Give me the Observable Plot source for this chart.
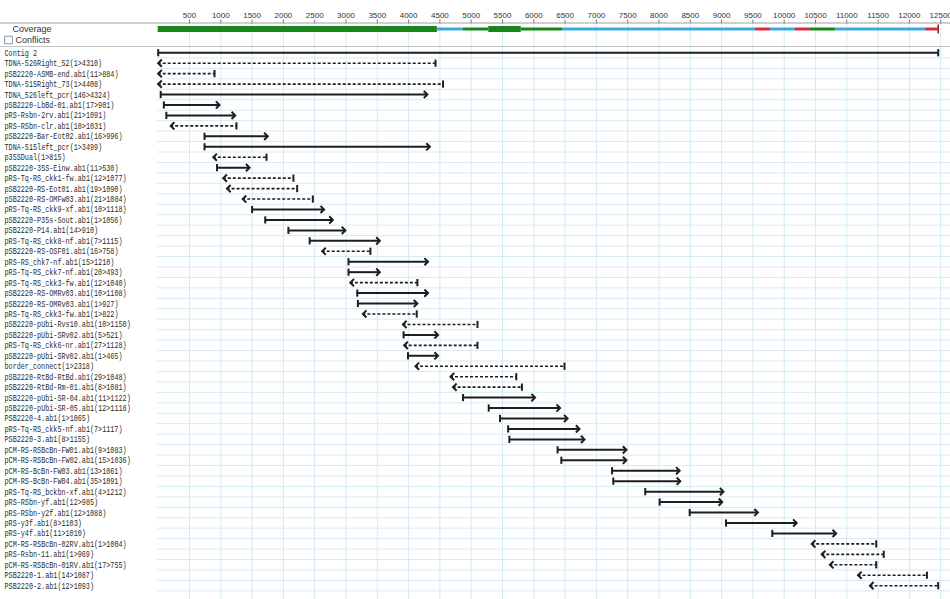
<!DOCTYPE html>
<html><head><meta charset="utf-8">
<script src="https://cdn.jsdelivr.net/npm/d3@7"></script>
<script src="https://cdn.jsdelivr.net/npm/@observablehq/plot@0.6"></script>
<style>
html,body{margin:0;padding:0;background:#fff;}
#chart{width:950px;height:599px;position:relative;overflow:hidden;background:#fff;}
#chart svg{display:block;}
</style></head><body><div id="chart"></div>
<script>
// ---- data ----
const readLabels = [
  "Contig 2",
  "TDNA-526Right_52(1>4310)",
  "pSB2220-ASMB-end.ab1(11>884)",
  "TDNA-515Right_73(1>4408)",
  "TDNA_526left_pcr(146>4324)",
  "pSB2220-LbBd-01.ab1(17>901)",
  "pRS-Rsbn-2rv.ab1(21>1091)",
  "pRS-RSbn-clr.ab1(10>1031)",
  "pSB2220-Bar-Eot02.ab1(16>996)",
  "TDNA-515left_pcr(1>3499)",
  "p35SDual(1>815)",
  "pSB2220-35S-Einw.ab1(11>530)",
  "pRS-Tq-RS_ckk1-fw.ab1(12>1077)",
  "pSB2220-RS-Eot01.ab1(19>1090)",
  "pSB2220-RS-OMFw03.ab1(21>1084)",
  "pRS-Tq-RS_ckk9-xf.ab1(10>1118)",
  "pSB2220-P35s-Sout.ab1(1>1056)",
  "pSB2220-P14.ab1(14>910)",
  "pRS-Tq-RS_ckk8-nf.ab1(7>1115)",
  "pSB2220-RS-OSF01.ab1(16>758)",
  "pRS-RS_chk7-nf.ab1(15>1210)",
  "pRS-Tq-RS_ckk7-nf.ab1(20>493)",
  "pRS-Tq-RS_ckk3-fw.ab1(12>1040)",
  "pSB2220-RS-OMRv03.ab1(10>1108)",
  "pSB2220-RS-OMRv03.ab1(1>927)",
  "pRS-Tq-RS_ckk3-fw.ab1(1>822)",
  "pSB2220-pUbi-Rvs10.ab1(10>1150)",
  "pSB2220-pUbi-SRv02.ab1(5>521)",
  "pRS-Tq-RS_ckk6-nr.ab1(27>1128)",
  "pSB2220-pUbi-SRv02.ab1(1>465)",
  "border_connect(1>2318)",
  "pSB2220-RtBd-RtBd.ab1(29>1048)",
  "pSB2220-RtBd-Rm-01.ab1(8>1081)",
  "pSB2220-pUbi-SR-04.ab1(11>1122)",
  "pSB2220-pUbi-SR-05.ab1(12>1118)",
  "PSB2220-4.ab1(1>1065)",
  "pRS-Tq-RS_ckk5-nf.ab1(7>1117)",
  "PSB2220-3.ab1(8>1155)",
  "pCM-RS-RSBcBn-FW01.ab1(9>1083)",
  "pCM-RS-RSBcBn-FW02.ab1(15>1036)",
  "pCM-RS-BcBn-FW03.ab1(13>1061)",
  "pCM-RS-BcBn-FW04.ab1(35>1091)",
  "pRS-Tq-RS_bckbn-xf.ab1(4>1212)",
  "pRS-RSbn-yf.ab1(12>985)",
  "pRS-RSbn-y2f.ab1(12>1088)",
  "pRS-y3f.ab1(8>1103)",
  "pRS-y4f.ab1(11>1010)",
  "pCM-RS-RSBcBn-02RV.ab1(1>1004)",
  "pRS-Rsbn-11.ab1(1>969)",
  "pCM-RS-RSBcBn-01RV.ab1(17>755)",
  "PSB2220-1.ab1(14>1087)",
  "PSB2220-2.ab1(12>1093)"
];
const readStart = [0,0,0,0,40,90,130,200,740,740,880,940,1040,1100,1350,1500,1710,2080,2420,2620,3040,3040,3070,3180,3190,3270,3910,3920,3930,3990,4110,4670,4710,4870,5280,5460,5590,5610,6380,6440,7250,7270,7780,8010,8490,9070,9810,10440,10600,10730,11180,11370];
const readEnd = [12460,4430,900,4550,4300,980,1230,1250,1750,4340,1730,1460,2160,2220,2470,2650,2790,2990,3540,3390,4310,3540,4140,4310,4140,4130,5100,4470,5100,4470,6490,5720,5810,6020,6420,6540,6730,6810,7480,7480,8330,8340,9030,9010,9580,10200,10830,11470,11590,11470,12280,12460];
// c = contig, f = forward read, r = reverse read
const readStrand = ["c","r","r","r","f","f","f","r","f","f","r","f","r","r","r","f","f","f","f","r","f","f","r","f","f","r","r","f","r","f","r","r","r","f","f","f","f","f","f","f","f","f","f","f","f","f","f","r","r","r","r","r"];

const covStart = [0,4460,4870,5280,5800,6460,9540,9780,10180,10420,10820,12260];
const covEnd   = [4460,4870,5280,5800,6460,9540,9780,10180,10420,10820,12260,12460];
const covKind  = ["G","b","g","G","g","b","r","b","r","g","b","r"];

const axisTicks = d3.range(500, 12501, 500);
const headerRows = ["Coverage","Conflicts"];

// ---- build tables ----
const reads = readLabels.map((name, i) => ({name, start: readStart[i], end: readEnd[i], strand: readStrand[i]}));
const coverage = covStart.map((s, i) => ({start: s, end: covEnd[i], kind: covKind[i]}));
const covColor = {G: "#17861b", g: "#17861b", b: "#3aa9e0", r: "#e0283e"};
const covWidth = {G: 6, g: 3, b: 3, r: 3};

const xDomain = [0, 12500];
const xRange = [157.7, 940.2];
const rowStep = 10.45;
const ink = "#1e1e1e";

// custom symbols
const tickSym = {draw(ctx){ ctx.moveTo(0,-3.6); ctx.lineTo(0,3.6); }};
const rightHead = {draw(ctx){ ctx.moveTo(-3.6,-3.6); ctx.lineTo(0,0); ctx.lineTo(-3.6,3.6); }};
const leftHead = {draw(ctx){ ctx.moveTo(3.6,-3.6); ctx.lineTo(0,0); ctx.lineTo(3.6,3.6); }};
const covTick = {draw(ctx){ ctx.moveTo(0,-4.5); ctx.lineTo(0,4.5); }};

const solid = reads.filter(d => d.strand !== "r");
const fwd = reads.filter(d => d.strand === "f");
const rev = reads.filter(d => d.strand === "r");
const contig = reads.filter(d => d.strand === "c");

// ---- header ----
const header = Plot.plot({
  width: 950, height: 47,
  marginTop: 22.5, marginBottom: 0, marginLeft: 0, marginRight: 0,
  x: {domain: xDomain, range: xRange, axis: null},
  y: {type: "band", domain: headerRows, range: [23, 45], padding: 0, round: false, axis: null},
  style: {fontFamily: "Liberation Sans, Arial, sans-serif", background: "white"},
  marks: [
    Plot.ruleX(axisTicks, {stroke: "#d6edf6", strokeWidth: 1}),
    Plot.axisX(axisTicks, {anchor: "top", tickSize: 4, tickPadding: 1.5, fontSize: 8, tickFormat: d => String(d), stroke: "#777", fill: "#333", label: null}),
    Plot.frame({anchor: "top", stroke: "#a0a0a0"}),
    Plot.frame({anchor: "bottom", stroke: "#8a8a8a", strokeWidth: 2}),
    Plot.ruleY(coverage, {y: () => "Coverage", x1: "start", x2: "end", stroke: d => covColor[d.kind], strokeWidth: d => covWidth[d.kind]}),
    Plot.dot([covEnd[covEnd.length - 1]], {x: d => d, y: () => "Coverage", symbol: covTick, stroke: "#8b1a1a", strokeWidth: 1.5, fill: "none"}),
    Plot.dot(["Conflicts"], {y: d => d, frameAnchor: "left", dx: 8, symbol: "square", r: 4.3, fill: "white", stroke: "#7f9bb5", strokeWidth: 1}),
    Plot.text(["Coverage"], {y: d => d, text: d => d, frameAnchor: "left", dx: 12, textAnchor: "start", fontSize: 9, fill: "#333"}),
    Plot.text(["Conflicts"], {y: d => d, text: d => d, frameAnchor: "left", dx: 15, textAnchor: "start", fontSize: 9, fill: "#333"})
  ]
});

// ---- main tracks ----
const main = Plot.plot({
  width: 950, height: 552,
  marginTop: 0, marginBottom: 0, marginLeft: 157, marginRight: 0,
  x: {domain: xDomain, range: xRange, axis: null},
  y: {type: "band", domain: readLabels, range: [0, readLabels.length * rowStep], padding: 0, round: false, axis: null},
  style: {background: "white"},
  marks: [
    Plot.ruleX(axisTicks, {stroke: "#d3ebf4", strokeWidth: 1}),
    Plot.ruleY(reads, {y: "name", dy: rowStep / 2, stroke: "#d4ecf5", strokeWidth: 1}),
    Plot.text(reads, {y: "name", text: "name", frameAnchor: "left", dx: 4 - 157, textAnchor: "start", fontFamily: "Liberation Mono, DejaVu Sans Mono, monospace", fontSize: 9.4, fill: "#2b2b2b"}),
    Plot.ruleY(solid, {y: "name", x1: "start", x2: "end", stroke: ink, strokeWidth: 2}),
    Plot.ruleY(rev, {y: "name", x1: "start", x2: "end", stroke: ink, strokeWidth: 1.6, strokeDasharray: "3,2"}),
    Plot.dot(solid, {x: "start", y: "name", symbol: tickSym, stroke: ink, strokeWidth: 2, fill: "none"}),
    Plot.dot(contig, {x: "end", y: "name", symbol: tickSym, stroke: ink, strokeWidth: 2, fill: "none"}),
    Plot.dot(rev, {x: "end", y: "name", symbol: tickSym, stroke: ink, strokeWidth: 2, fill: "none"}),
    Plot.dot(fwd, {x: "end", y: "name", symbol: rightHead, stroke: ink, strokeWidth: 2, fill: "none"}),
    Plot.dot(rev, {x: "start", y: "name", symbol: leftHead, stroke: ink, strokeWidth: 2, fill: "none"})
  ]
});

// condense the monospace labels to the reference's narrow character width
d3.select(main).selectAll('g[aria-label="text"] text').each(function() {
  const n = this.textContent.length;
  this.setAttribute("textLength", (n * 4.07).toFixed(1));
  this.setAttribute("lengthAdjust", "spacingAndGlyphs");
});

const chart = document.getElementById("chart");
chart.appendChild(header);
chart.appendChild(main);
</script>
</body></html>
